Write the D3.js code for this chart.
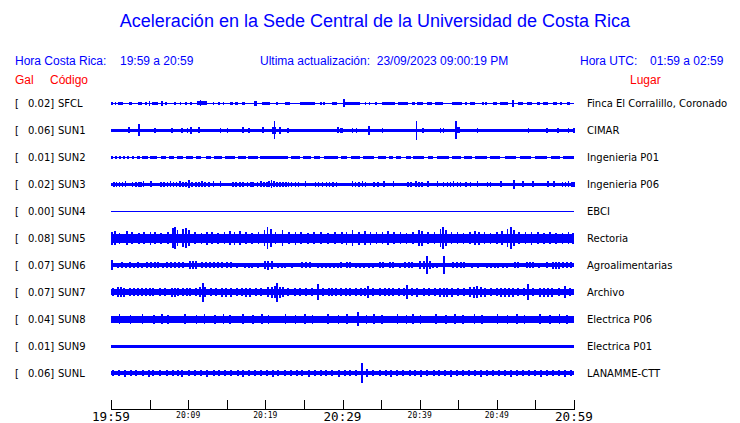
<!DOCTYPE html>
<html><head><meta charset="utf-8">
<script src="https://cdn.jsdelivr.net/npm/d3@7"></script>
<style>html,body{margin:0;padding:0;background:#fff;}svg{display:block;}</style>
</head><body>
<script>
// ---- DATA ----
const codes  = ["SFCL","SUN1","SUN2","SUN3","SUN4","SUN5","SUN6","SUN7","SUN8","SUN9","SUNL"];
const gal    = ["0.02","0.06","0.01","0.02","0.00","0.08","0.07","0.07","0.04","0.01","0.06"];
const places = ["Finca El Corralillo, Coronado","CIMAR","Ingenieria P01","Ingenieria P06","EBCI","Rectoria","Agroalimentarias","Archivo","Electrica P06","Electrica P01","LANAMME-CTT"];
const tickMinutes = [0,5,10,15,20,25,30,35,40,45,50,55,60];
const labelMinutes = [0,10,20,30,40,50,60];
const tickLabels = ["19:59","20:09","20:19","20:29","20:39","20:49","20:59"];
const majorLabels = ["19:59","20:29","20:59"];
// background noise level of each trace (continuous band half-amplitude)
const noise = [0.6,1.8,0.7,1.6,0.5,4.8,1.9,3.0,3.6,1.6,2];
// bursts: [start minute, end minute, half-amplitude]
const burstsSFCL = [[0,0.1,1.5],[0.5,0.5,1.2],[0.9,1.6,1.5],[2.3,2.7,1.2],[3.5,4.0,1.5],[4.4,4.7,1.2],[4.9,4.9,2.2],[5.3,6.1,1.5],[6.5,6.5,2.2],[7.0,7.0,1.2],[8.2,8.2,1.2],[8.9,8.9,1.2],[9.6,9.6,1.2],[10.2,10.5,1.5],[11.1,12.4,2.0],[11.5,11.5,3],[13.2,13.2,1.2],[13.9,13.9,1.2],[14.5,14.5,1.2],[15.4,15.8,1.5],[16.1,16.5,1.5],[17.0,17.4,1.5],[18.5,18.9,2.5],[19.6,20.6,1.5],[21.4,21.4,1.2],[22.5,23.2,1.5],[24.5,26.4,1.5],[27.1,27.1,1.2],[27.5,27.5,1.2],[28.6,29.3,1.5],[30.1,30.1,4],[30.3,32.3,1.5],[32.9,32.9,1.2],[33.4,33.4,1.2],[34.2,34.2,1.2],[35.1,36.8,1.5],[37.2,38.5,1.5],[39.0,39.4,1.5],[39.7,40.4,1.5],[40.9,41.6,1.5],[42.0,43.0,1.5],[44.2,45.5,1.5],[45.9,45.9,1.2],[46.5,47.2,1.5],[48.1,48.1,1.2],[48.5,48.5,1.2],[49.5,50.0,1.5],[50.4,51.4,1.5],[52.0,52.0,3.5],[52.7,53.4,1.5],[53.9,54.6,1.5],[55.2,55.6,1.5],[56.0,56.6,1.5],[57.3,57.8,1.5],[58.2,58.2,1.2],[59.1,59.5,1.5]];
const burstsSUN1 = [[2.2,2.2,3],[3.5,3.5,6],[5.6,5.6,2.5],[7.8,7.8,2.5],[9.1,9.1,2.5],[9.8,9.8,2.5],[10.2,10.5,3.5],[11.3,11.3,3],[14.1,14.1,2.5],[15.0,15.0,2.5],[17.0,17.0,3],[17.8,17.8,2.5],[19.6,19.6,3],[20.9,21.4,3.5],[21.1,21.1,9],[21.8,21.8,3.5],[22.8,22.8,2.5],[29.3,29.3,3],[29.7,30.1,2.8],[31.2,31.2,2.5],[31.7,31.7,2.5],[33.3,33.3,4.5],[35.1,35.1,2.5],[39.5,39.5,9.5],[40.3,40.3,2.5],[42.6,42.6,2.5],[43.0,43.0,2.5],[44.6,44.6,9],[44.6,45.2,3],[47.4,47.4,2.8],[54.0,54.0,2.5],[56.4,56.4,2.5],[57.8,57.8,2.5],[59.2,59.2,2.5],[59.9,59.9,2.5]];
const burstsSUN2 = [[0,0.3,1.4],[0.5,0.8,1.4],[1.0,1.3,1.4],[1.6,1.8,1.4],[2.1,2.3,1.4],[2.7,3.0,1.4],[3.4,3.8,1.4],[4.0,4.8,1.4],[5.1,6.0,1.4],[6.5,7.1,1.4],[7.5,8.2,1.4],[8.6,9.3,1.4],[9.7,10.6,1.4],[11.0,11.7,1.4],[12.3,13.0,1.4],[13.3,14.4,1.4],[14.8,16.1,1.4],[16.5,17.5,1.4],[17.8,19.1,1.4],[19.3,22.9,1.8],[23.3,24.5,1.4],[24.9,25.9,1.4],[26.3,27.1,1.4],[27.6,29.4,1.4],[29.8,30.6,1.4],[31.1,32.3,1.4],[32.7,34.1,1.4],[34.6,35.6,1.4],[36.0,36.5,1.4],[36.9,37.6,1.4],[38.2,38.9,1.4],[39.1,40.6,1.8],[41.1,41.7,1.4],[42.2,43.8,1.4],[44.2,45.4,1.4],[45.7,46.8,1.4],[47.2,48.7,1.4],[49.1,50.4,1.4],[51.1,52.5,1.4],[53.0,54.4,1.4],[54.9,56.5,1.4],[57.0,58.2,1.4],[58.6,60,1.4]];
const burstsSUN3 = [[0.3,0.3,2.7],[0.6,0.6,2.7],[1.0,1.0,2.7],[1.4,1.4,2.7],[1.8,1.8,3],[2.7,2.7,2.7],[3.1,3.1,2.7],[3.5,3.5,2.7],[3.8,3.8,2.7],[4.1,4.1,3],[5.1,5.1,3],[6.4,6.4,2.7],[6.8,6.8,2.7],[7.2,7.2,2.7],[7.6,7.6,3],[8.0,8.0,2.7],[8.4,8.4,2.7],[8.8,8.8,3],[9.2,9.2,2.7],[9.6,9.6,2.7],[10.0,10.0,4],[10.4,10.4,2.7],[10.9,10.9,2.7],[11.3,11.3,2.7],[11.7,11.7,3],[12.1,12.1,2.7],[12.6,12.6,2.7],[13.2,13.2,3],[14.1,14.1,3],[15.7,15.7,2.7],[16.1,16.1,2.7],[16.6,16.6,2.7],[17.0,17.0,2.7],[17.6,17.6,2.7],[18.0,18.0,2.7],[18.3,18.3,2.7],[18.9,18.9,2.7],[19.3,19.3,3],[19.7,19.7,2.7],[20.1,20.1,2.7],[20.4,20.4,3],[20.7,20.7,4],[21.0,21.0,3],[21.4,21.4,2.7],[21.8,21.8,2.7],[22.2,22.2,2.7],[22.6,22.6,2.7],[22.9,22.9,2.7],[23.3,23.3,2.7],[23.8,23.8,2.7],[24.2,24.2,2.7],[25.1,25.1,3],[26.4,26.4,2.7],[26.8,26.8,2.7],[27.3,27.3,2.7],[27.8,27.8,2.7],[28.2,28.2,2.7],[28.7,28.7,2.7],[29.1,29.1,2.7],[31.2,31.2,3],[31.6,31.6,2.7],[32.0,32.0,2.7],[32.5,32.5,3],[32.9,32.9,2.7],[34.0,34.0,2.7],[34.5,34.5,2.7],[35.3,35.3,3],[36.5,36.5,3],[38.4,38.4,2.7],[38.8,38.8,2.7],[39.4,39.4,3],[39.8,39.8,2.7],[40.2,40.2,2.7],[41.0,41.0,3],[42.2,42.2,3],[43.0,43.0,2.7],[43.5,43.5,2.7],[43.9,43.9,2.7],[44.3,44.3,3],[44.8,44.8,2.7],[45.2,45.2,2.7],[45.9,45.9,2.7],[46.5,46.5,2.7],[47.4,47.4,3],[48.7,48.7,2.7],[49.1,49.1,2.7],[50.4,50.4,3],[52.1,52.1,4.5],[53.3,53.3,3],[54.6,54.6,3],[56.5,56.5,3],[57.3,57.3,3],[58.4,58.4,2.7],[58.8,58.8,2.7],[59.2,59.2,3],[59.6,59.6,2.7],[59.9,59.9,2.7]];
const burstsSUN4 = [];
const burstsSUN5 = [[0,0.2,6.5],[0.4,0.5,7],[1.0,1.1,5.5],[2.0,2.2,7],[2.6,2.7,6],[3.5,3.6,5.5],[4.2,4.3,6],[5.0,5.2,6.5],[5.6,5.7,6],[6.4,6.5,5.5],[7.3,7.4,6],[7.9,8.0,10],[8.2,8.3,11],[8.5,8.6,8],[9.2,9.3,9],[9.6,9.7,10],[10.0,10.1,8],[10.8,10.9,6],[11.6,11.7,5.5],[12.3,12.4,6.5],[13.0,13.1,6],[13.8,13.9,5.5],[14.6,14.7,6],[15.3,15.4,7],[15.9,16.0,6.5],[16.6,16.7,7],[17.4,17.5,6],[18.2,18.3,5.5],[19.0,19.1,6],[19.8,19.9,8],[20.2,20.3,11],[20.6,20.7,9],[21.2,21.3,6],[22.1,22.2,8],[23.0,23.1,6],[23.8,23.9,6.5],[24.5,24.6,6],[25.4,25.5,5.5],[26.2,26.3,6],[27.1,27.2,6],[28.0,28.1,5.5],[28.9,29.0,6],[29.8,29.9,6],[30.4,30.5,6.5],[31.2,31.3,8],[32.0,32.1,6.5],[32.8,32.9,7],[33.5,33.6,6.5],[34.3,34.4,6],[35.1,35.2,6],[35.8,35.9,7],[36.6,36.7,6],[37.4,37.5,6],[38.2,38.3,5.5],[39.0,39.1,6],[39.8,39.9,8],[40.2,40.3,7.5],[41.0,41.1,6],[41.8,41.9,6],[42.6,42.7,9],[42.9,43.0,11],[43.3,43.4,8],[44.0,44.1,6],[44.8,44.9,6],[45.6,45.7,5.5],[46.4,46.5,6],[47.1,47.2,7],[47.6,47.7,6.5],[48.3,48.4,6],[49.1,49.2,5.5],[49.9,50.0,6],[50.6,50.7,7],[51.3,51.4,9],[51.7,51.8,11],[52.1,52.2,8],[52.8,52.9,6],[53.6,53.7,6],[54.4,54.5,6.5],[55.2,55.3,6],[56.0,56.1,5.5],[56.8,56.9,6],[57.6,57.7,5.5],[58.4,58.5,5.5],[59.2,59.3,6],[59.8,59.9,5.5]];
const burstsSUN6 = [];
const burstsSUN7 = [];
const burstsSUN8 = [[1.0,1.2,4.8],[2.4,2.5,4.5],[4.0,4.2,4.8],[5.5,5.6,4.5],[6.5,6.7,4.8],[7.3,7.4,4.5],[9.5,9.7,5],[11.0,11.1,4.5],[12.0,12.2,4.8],[13.4,13.5,4.5],[14.5,14.7,4.8],[15.3,15.4,4.5],[17.0,17.2,5],[18.3,18.4,4.5],[19.5,19.7,4.8],[20.3,20.4,4.5],[22.5,22.7,5],[23.8,23.9,4.5],[25.0,25.2,4.8],[26.0,26.1,4.5],[28.0,28.2,4.8],[29.4,29.5,4.5],[30.5,30.7,4.8],[31.9,31.9,7],[33.0,33.1,4.5],[34.0,34.2,4.8],[35.0,35.1,4.5],[37.0,37.2,5],[38.2,38.3,4.5],[39.0,39.2,4.8],[40.0,40.1,4.5],[42.0,42.2,4.8],[43.3,43.4,4.5],[44.5,44.7,5],[45.5,45.6,4.5],[47.0,47.2,4.8],[48.0,48.1,4.5],[50.0,50.2,4.8],[51.3,51.4,4.5],[52.5,52.7,5],[53.5,53.6,4.5],[55.5,55.7,4.8],[56.8,56.9,4.5],[58.0,58.2,4.8],[59.0,59.1,4.5]];
const burstsSUN9 = [];
const burstsSUNL = [];
const bursts = [burstsSFCL,burstsSUN1,burstsSUN2,burstsSUN3,burstsSUN4,burstsSUN5,burstsSUN6,burstsSUN7,burstsSUN8,burstsSUN9,burstsSUNL];
// short spikes: [minute, half-amplitude]
const spikesSUN6 = [[0.1,5],[0.9,2.6],[1.4,2.8],[1.9,2.6],[2.4,2.8],[3.0,2.6],[3.5,2.8],[4.0,2.6],[4.7,3],[5.2,3],[5.7,3],[6.1,3],[6.8,2.6],[7.3,3],[7.8,3],[8.3,2.8],[8.8,3],[9.3,2.8],[10.2,4],[10.6,4],[11.0,4],[11.8,3],[12.3,3],[12.8,3],[13.3,3],[13.9,3],[14.4,3],[15.0,3],[15.5,3],[16.3,2.6],[17.4,2.6],[17.9,2.6],[18.3,2.6],[19.0,2.6],[20.0,4],[20.4,4.5],[20.8,4],[21.6,2.6],[22.1,2.6],[22.6,2.6],[23.5,2.6],[24.8,3],[25.3,3],[25.8,3],[26.8,2.6],[27.3,2.6],[27.8,2.6],[28.4,2.6],[28.9,2.6],[29.4,2.6],[29.8,3],[30.6,3],[31.0,3],[31.8,2.6],[32.3,2.6],[32.8,2.6],[33.4,2.6],[34.0,2.6],[34.9,3],[35.3,3],[36.2,3],[36.6,3],[37.4,2.6],[38.1,3],[38.6,3],[39.0,3],[40.0,4],[40.5,4],[40.9,9],[41.3,4],[41.7,2.6],[42.2,2.6],[43.2,9],[44.3,3],[44.8,3],[45.3,3],[45.8,3],[46.8,2.6],[47.6,2.6],[48.7,2.6],[49.2,2.6],[49.7,2.6],[50.2,2.6],[50.8,2.6],[51.3,2.6],[52.4,3],[52.8,3],[53.9,3],[54.3,3],[54.7,3],[55.5,2.6],[56.5,3],[57.3,3.5],[57.7,3.5],[58.1,3.5],[58.6,3],[59.1,3],[59.6,3]];
const spikesSUN7 = [[0.2,3.8],[0.9,5],[1.3,5],[1.7,4.5],[2.5,4],[3.0,4],[3.5,4.2],[4.0,4],[4.5,4.2],[5.0,4],[5.5,4],[6.3,3.8],[7.0,3.8],[7.9,4.5],[8.3,4.5],[8.7,4],[9.3,4.2],[9.8,4],[10.3,4.2],[11.0,4],[11.5,5],[11.9,9.5],[12.2,5],[13.0,4],[13.6,3.8],[14.4,4.5],[14.9,4.5],[15.5,4.5],[16.3,4],[17.0,4],[17.5,4.5],[18.0,4.5],[18.8,4],[19.5,4],[20.3,5],[20.8,5.5],[21.2,6],[21.5,9.5],[21.9,5.5],[22.3,5],[23.0,4],[23.8,4],[24.5,4],[25.3,4],[26.0,4],[26.8,8],[27.5,4],[28.2,4],[28.7,4.2],[29.2,4.2],[29.8,4.2],[30.4,4],[31.0,4],[31.8,4],[32.4,4.2],[32.9,4],[33.3,6],[34.0,4],[34.8,4],[35.5,3.8],[36.0,4],[36.5,3.8],[37.3,3.8],[38.0,4],[38.4,7],[39.0,4],[39.7,4.5],[40.5,4],[41.2,4],[42.0,4],[42.6,4.5],[43.1,4.5],[43.6,4.5],[44.2,4.5],[45.0,4],[45.7,4],[46.5,5],[47.0,5.5],[47.4,6],[47.9,5],[48.5,4.5],[49.3,4],[50.0,4],[50.5,4.5],[51.0,4.5],[51.6,4.5],[52.1,4.5],[52.8,4],[53.5,4],[54.0,8],[54.7,4],[55.6,4.5],[56.1,4.5],[56.6,4.5],[57.2,4.5],[58.0,4],[58.8,6],[59.5,4]];
const spikesSUNL = [[0.3,3],[1.0,2.8],[1.8,3.3],[2.6,3],[3.2,2.8],[4.1,3],[4.9,3.3],[5.5,2.8],[6.3,3],[7.2,3],[8.0,2.8],[8.7,3],[9.2,3.5],[10.1,3],[10.9,2.8],[11.6,3],[12.4,3.3],[13.3,3],[14.0,2.8],[14.8,3],[15.5,3],[16.4,2.8],[17.1,3.3],[17.9,3],[18.6,2.8],[19.4,3],[20.2,3],[21.0,3.3],[21.7,2.8],[22.5,3],[23.3,3],[24.1,2.8],[24.8,3],[25.6,3.3],[26.4,3],[27.2,2.8],[27.9,3],[28.7,3],[29.5,3.3],[30.3,2.8],[31.0,3],[31.8,3],[32.5,10],[33.2,4],[34.0,3],[34.8,2.8],[35.6,3],[36.3,3.3],[37.1,3],[37.9,2.8],[38.7,3],[39.4,3],[40.2,3.3],[41.0,2.8],[41.8,3],[42.5,3],[43.3,2.8],[44.1,3.3],[44.9,3],[45.6,2.8],[46.4,3],[47.2,3],[48.0,3.3],[48.7,2.8],[49.5,3],[50.3,3],[51.1,2.8],[51.8,3.3],[52.6,3],[53.4,2.8],[54.2,3],[54.9,3],[55.7,3.3],[56.5,2.8],[57.3,3],[58.0,3],[58.8,3.3],[59.6,2.8]];
const spikes = [[],[],[],[],[],[],spikesSUN6,spikesSUN7,[],[],spikesSUNL];

// ---- DRAW ----
const W = 740, H = 423;
const BLUE = "#0000ff", RED = "#ff0000";
const svg = d3.select("body").append("svg").attr("width", W).attr("height", H);

svg.append("text").attr("x", 375).attr("y", 27).attr("text-anchor", "middle")
  .attr("font-family", "Liberation Sans, Arial, sans-serif").attr("font-size", 18).attr("fill", BLUE)
  .text("Aceleración en la Sede Central de la Universidad de Costa Rica");

const hdr = (x, y, t, c, anchor) => svg.append("text").attr("x", x).attr("y", y)
  .attr("text-anchor", anchor || "start")
  .attr("font-family", "Liberation Sans, Arial, sans-serif").attr("font-size", 12).attr("fill", c).text(t);
hdr(15, 64.5, "Hora Costa Rica:", BLUE);
hdr(120, 64.5, "19:59 a 20:59", BLUE);
hdr(260, 64.5, "Ultima actualización:  23/09/2023 09:00:19 PM", BLUE).style("white-space","pre");
hdr(580, 64.5, "Hora UTC:", BLUE);
hdr(650, 64.5, "01:59 a 02:59", BLUE);
hdr(15, 84, "Gal", RED);
hdr(50, 84, "Código", RED);
hdr(630, 84, "Lugar", RED);

const x = d3.scaleLinear().domain([0, 60]).range([111, 574]);
const y = d3.scaleBand().domain(codes).range([89.8, 386.8]);
const amp = d3.scaleLinear().domain([0, 10]).range([0, 10]);
const SPIKE_W = 2;

const rows = svg.append("g").selectAll("g").data(codes).join("g")
  .attr("transform", d => `translate(0,${y(d) + y.bandwidth() / 2})`);

const lab = { "font-family": "DejaVu Sans, Verdana, sans-serif", "font-size": 10, "fill": "#000" };
function applyFont(s){ for (const k in lab) s.attr(k, lab[k]); return s; }
applyFont(rows.append("text").attr("x", 15).attr("y", 4).text("["));
applyFont(rows.append("text").attr("x", 28).attr("y", 4).text((d, i) => gal[i] + "]"));
applyFont(rows.append("text").attr("x", 58).attr("y", 4).text(d => d));
applyFont(rows.append("text").attr("x", 587).attr("y", 4).text((d, i) => places[i]));

rows.append("rect")
  .attr("x", x(0)).attr("width", x(60) - x(0))
  .attr("y", (d, i) => -amp(noise[i])).attr("height", (d, i) => 2 * amp(noise[i]))
  .attr("fill", BLUE).attr("shape-rendering", "crispEdges");

rows.each(function(d, i) {
  const g = d3.select(this);
  g.selectAll("rect.b").data(bursts[i]).join("rect").attr("class", "b")
    .attr("x", b => x(b[0]))
    .attr("width", b => Math.max(x(b[1]) - x(b[0]), 1.6))
    .attr("y", b => -amp(b[2])).attr("height", b => 2 * amp(b[2]))
    .attr("fill", BLUE).attr("shape-rendering", "crispEdges");
  g.selectAll("rect.s").data(spikes[i]).join("rect").attr("class", "s")
    .attr("x", s => x(s[0]) - SPIKE_W / 2).attr("width", SPIKE_W)
    .attr("y", s => -amp(s[1])).attr("height", s => 2 * amp(s[1]))
    .attr("fill", BLUE).attr("shape-rendering", "crispEdges");
});

// time axis
const axis = d3.axisBottom(x).tickValues(tickMinutes).tickSize(-9).tickFormat("");
const ag = svg.append("g").attr("transform", "translate(0,409)").call(axis);
ag.selectAll("path,line").attr("stroke", "#000").attr("shape-rendering", "crispEdges");

svg.append("g").selectAll("text").data(labelMinutes).join("text")
  .attr("x", d => x(d)).attr("text-anchor", "middle")
  .attr("y", (d, i) => majorLabels.includes(tickLabels[i]) ? 421 : 417.5)
  .attr("font-family", "DejaVu Sans Mono, monospace")
  .attr("font-size", (d, i) => majorLabels.includes(tickLabels[i]) ? 12.6 : 8)
  .attr("fill", "#000")
  .text((d, i) => tickLabels[i]);
</script>
</body></html>
